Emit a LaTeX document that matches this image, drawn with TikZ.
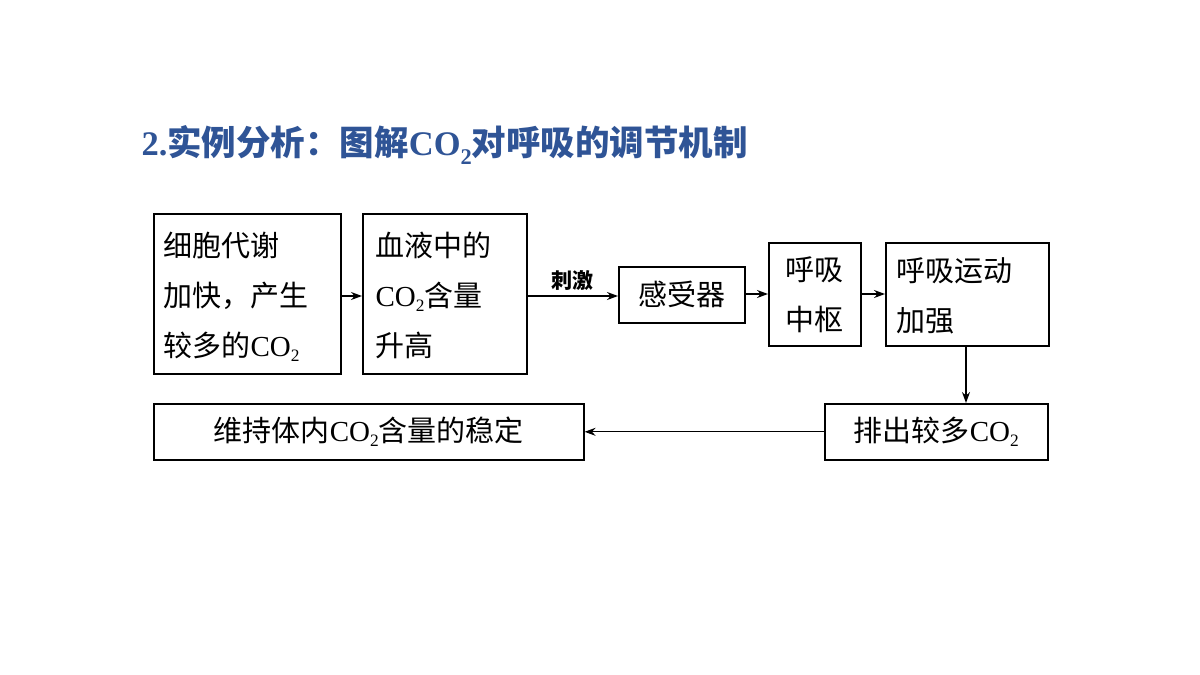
\documentclass[tikz,border=0pt]{standalone}
\usepackage{fontspec}
\setmainfont{Noto Sans CJK SC}
\newfontfamily\lser{Liberation Serif}
\newcommand\COtwo{{\lser CO\raisebox{-0.2em}{\scalebox{0.6}{2}}}}
\usetikzlibrary{arrows.meta}
\begin{document}
\begin{tikzpicture}[x=1pt,y=-1pt,
  bx/.style={draw,line width=1.6pt,inner sep=0pt,anchor=north west},
  tx/.style={font=\fontsize{29}{50}\selectfont,align=left},
  ar/.style={line width=1.3pt,-{Stealth[length=11pt,width=8pt]}}]
\useasboundingbox (0,0) rectangle (1200,675);
\node[anchor=west,font=\bfseries\fontsize{34.5}{38}\selectfont,text={rgb,255:red,47;green,84;blue,150}] (t) at (138,145) {{\lser\bfseries 2.}实例分析：图解{\lser\bfseries CO\raisebox{-0.25em}{\scalebox{0.65}{2}}}对呼吸的调节机制};
\node[bx,minimum width=187pt,minimum height=160pt] (a) at (153,213) {};
\node[tx,anchor=north west] (at) at (160,228) {细胞代谢\\加快，产生\\较多的\COtwo};
\node[bx,minimum width=164pt,minimum height=160pt] (b) at (362,213) {};
\node[tx,anchor=north west] (bt) at (372,228) {血液中的\\\COtwo 含量\\升高};
\node[bx,minimum width=126pt,minimum height=56pt] (c) at (618,266) {};
\node[tx] (ct) at (c.center) {感受器};
\node[bx,minimum width=92pt,minimum height=103pt] (d) at (768,242) {};
\node[tx,align=center] (dt) at (d.center) {呼吸\\中枢};
\node[bx,minimum width=163pt,minimum height=103pt] (e) at (885,242) {};
\node[tx,anchor=north west] (et) at (893,254) {呼吸运动\\加强};
\node[bx,minimum width=223pt,minimum height=56pt] (f) at (824,403) {};
\node[tx] (ft) at (f.center) {排出较多\COtwo};
\node[bx,minimum width=430pt,minimum height=56pt] (g) at (153,403) {};
\node[tx] (gt) at (g.center) {维持体内\COtwo 含量的稳定};
\draw[ar] (a.east |- 0,296) -- (b.west |- 0,296);
\draw[ar] (b.east |- 0,296) -- node[above,font=\bfseries\fontsize{21}{24}\selectfont,yshift=2pt] {刺激} (c.west |- 0,296);
\draw[ar] (c.east |- 0,294) -- (d.west |- 0,294);
\draw[ar] (d.east |- 0,294) -- (e.west |- 0,294);
\draw[ar] (e.south -| 966,0) -- (f.north -| 966,0);
\draw[ar] (f.west) -- (g.east);
\end{tikzpicture}
\end{document}
